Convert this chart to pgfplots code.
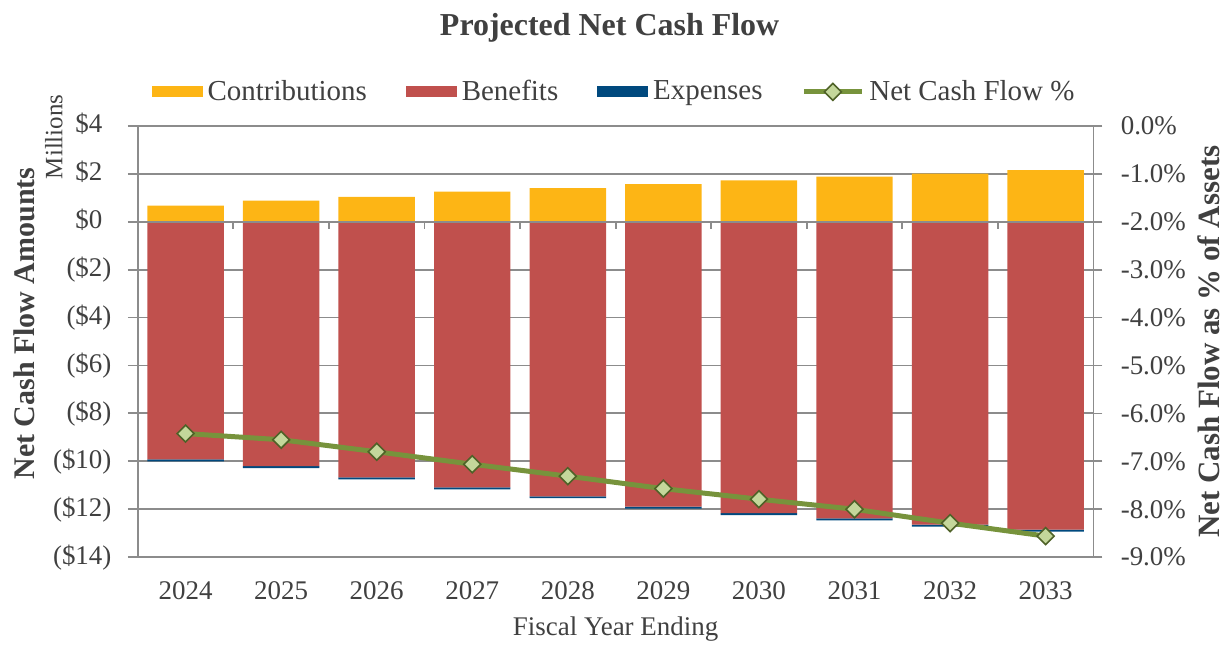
\documentclass[border=0pt]{standalone}
\usepackage{fontspec}
\setmainfont{Liberation Serif}
\usepackage{pgfplots}
\pgfplotsset{compat=1.18}
\usepackage{pgfplotstable}
\usetikzlibrary{calc}

\definecolor{contrib}{HTML}{FDB515}
\definecolor{benef}{HTML}{C0504D}
\definecolor{expen}{HTML}{00497E}
\definecolor{linegreen}{HTML}{77933C}
\definecolor{markfill}{HTML}{C4D79B}
\definecolor{markedge}{HTML}{4F6228}
\definecolor{axgray}{HTML}{8C8C8C}
\definecolor{txt}{HTML}{404040}

\pgfplotstableread{
x contrib benef expen pct
0 0.67  -9.92  -0.08 -6.42
1 0.875 -10.20 -0.08 -6.55
2 1.03  -10.67 -0.08 -6.80
3 1.25  -11.09 -0.08 -7.06
4 1.40  -11.46 -0.08 -7.31
5 1.57  -11.89 -0.08 -7.57
6 1.72  -12.16 -0.08 -7.79
7 1.875 -12.38 -0.08 -8.00
8 2.00  -12.64 -0.08 -8.29
9 2.15  -12.85 -0.08 -8.56
}\data

\pgfplotsset{
  barleg/.style={legend image code/.code={\fill[##1, draw=none] (0pt,-2.75pt) rectangle (25.5pt,2.75pt);}},
  lineleg/.style={legend image code/.code={\draw[mark repeat=2,mark phase=2,##1] plot coordinates {(0pt,0pt) (14.5pt,0pt) (29pt,0pt)};}},
  base/.style={at={(0,0)}, anchor=south west,
    scale only axis, width=478.5pt, height=216pt,
    xmin=-0.5, xmax=9.5, clip=false},
}

\newcommand{\tickfont}{\fontsize{13.5}{16}\selectfont}

\begin{document}
\begin{tikzpicture}
% axis 1: grid, left axis, benefits + expenses stacked
\begin{axis}[
  base, name=ax,
  ymin=-14, ymax=4,
  axis lines*=left,
  axis line style={axgray, line width=0.9pt},
  xtick={0,...,9},
  xticklabels={2024,2025,2026,2027,2028,2029,2030,2031,2032,2033},
  x tick style={draw=none},
  xticklabel style={anchor=center, yshift=-12pt, font=\tickfont, text=txt},
  ytick={-14,-12,...,4},
  yticklabels={(\$14),(\$12),(\$10),(\$8),(\$6),(\$4),(\$2),\$0\phantom{)},\$2\phantom{)},\$4\phantom{)}},
  yticklabel style={anchor=east, inner sep=0pt, xshift=-8pt, font=\tickfont, text=txt},
  y tick style={axgray, line width=0.9pt},
  tick align=outside,
  major tick length=5pt,
  ymajorgrids,
  grid style={axgray, line width=0.9pt},
  ybar stacked, bar width=0.8,
]
\addplot[fill=benef, draw=none, forget plot] table[x=x,y=benef]{\data};
\addplot[fill=expen, draw=none, forget plot] table[x=x,y=expen]{\data};
\end{axis}
% axis 1b: contributions (positive) and zero line on top
\begin{axis}[
  base,
  ymin=-14, ymax=4,
  hide axis,
  ybar, bar width=0.8, bar shift=0pt,
]
\addplot[fill=contrib, draw=none, forget plot] table[x=x,y=contrib]{\data};
\draw[axgray, line width=0.9pt] (axis cs:-0.5,0) -- (axis cs:9.5,0);
\pgfplotsinvokeforeach{0.5,1.5,2.5,3.5,4.5,5.5,6.5,7.5,8.5}{
  \draw[axgray, line width=0.9pt] (axis cs:#1,0) -- ++(0pt,-3.5pt);
}
\end{axis}
% axis 2: right axis, line, legend
\begin{axis}[
  base,
  ymin=-9, ymax=0,
  axis x line=none,
  axis y line*=right,
  axis line style={axgray, line width=0.9pt},
  ytick={-9,...,0},
  yticklabels={-9.0\%,-8.0\%,-7.0\%,-6.0\%,-5.0\%,-4.0\%,-3.0\%,-2.0\%,-1.0\%,0.0\%},
  yticklabel style={anchor=west, inner sep=0pt, xshift=9pt, font=\tickfont, text=txt},
  y tick style={axgray, line width=0.9pt},
  tick align=center,
  major tick length=9pt,
  legend columns=4,
  legend style={at={(0.5,1)}, anchor=center, yshift=17pt, draw=none, fill=none,
    font=\fontsize{14.5}{17}\selectfont, text=txt,
    nodes={inner xsep=2.5pt, inner ysep=1pt},
    /tikz/every even column/.append style={column sep=17pt}},
]
\addlegendimage{barleg, fill=contrib}
\addlegendentry{Contributions}
\addlegendimage{barleg, fill=benef}
\addlegendentry{Benefits}
\addlegendimage{barleg, fill=expen}
\addlegendentry{Expenses}
\addplot[linegreen, line width=2.5pt, mark=square*, lineleg,
  mark options={rotate=45, mark size=3pt, fill=markfill, draw=markedge, line width=0.8pt}]
  table[x=x,y=pct]{\data};
\addlegendentry{Net Cash Flow \%}
\end{axis}
\node[font=\bfseries\fontsize{16}{19}\selectfont, text=txt] at ($(ax.north)+(-3pt,49pt)$) {Projected Net Cash Flow};
\node[font=\fontsize{12.5}{15}\selectfont, text=txt, rotate=90] at ($(ax.north west)+(-42pt,-5.5pt)$) {Millions};
\node[font=\bfseries\fontsize{15}{18}\selectfont, text=txt, rotate=90] at ($(ax.west)+(-57pt,9pt)$) {Net Cash Flow Amounts};
\node[font=\bfseries\fontsize{15.5}{18}\selectfont, text=txt, rotate=90] at ($(ax.east)+(58pt,0pt)$) {Net Cash Flow as \% of Assets};
\node[font=\fontsize{13.5}{16}\selectfont, text=txt] at ($(ax.south)+(0pt,-36pt)$) {Fiscal Year Ending};
\path[use as bounding box] ($(ax.south west)+(-69pt,-43.5pt)$) rectangle ($(ax.north east)+(66pt,63pt)$);
\end{tikzpicture}
\end{document}
